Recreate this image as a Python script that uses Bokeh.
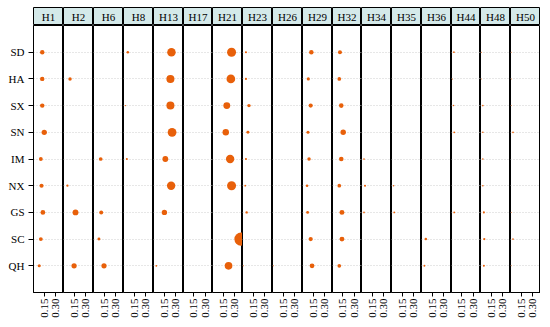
import math
from bokeh.plotting import figure
from bokeh.layouts import row, column
from bokeh.models import ColumnDataSource, FixedTicker, Range1d, FactorRange, Label
from bokeh.embed import file_html
from bokeh.resources import INLINE

# ---------------- data ----------------
populations = ["SD", "HA", "SX", "SN", "IM", "NX", "GS", "SC", "QH"]
haplotypes = ["H1", "H2", "H6", "H8", "H13", "H17", "H21", "H23", "H26",
              "H29", "H32", "H34", "H35", "H36", "H44", "H48", "H50"]

# frequency of each haplotype in each population (order = populations)
H1 = [0.127, 0.127, 0.127, 0.152, 0.109, 0.118, 0.135, 0.109, 0.089]
H2 = [0.0, 0.099, 0.0, 0.0, 0.0, 0.066, 0.168, 0.0, 0.150]
H6 = [0.0, 0.0, 0.0, 0.0, 0.107, 0.0, 0.114, 0.085, 0.149]
H8 = [0.071, 0.0, 0.041, 0.0, 0.059, 0.0, 0.0, 0.0, 0.0]
H13 = [0.243, 0.230, 0.230, 0.251, 0.166, 0.239, 0.154, 0.0, 0.052]
H17 = [0.0, 0.0, 0.0, 0.0, 0.0, 0.0, 0.0, 0.0, 0.0]
H21 = [0.257, 0.248, 0.197, 0.184, 0.239, 0.257, 0.0, 0.375, 0.219]
H23 = [0.060, 0.060, 0.098, 0.085, 0.060, 0.051, 0.069, 0.0, 0.030]
H26 = [0.0, 0.0, 0.0, 0.0, 0.0, 0.0, 0.0, 0.0, 0.030]
H29 = [0.128, 0.090, 0.120, 0.086, 0.099, 0.074, 0.081, 0.120, 0.137]
H32 = [0.114, 0.105, 0.131, 0.156, 0.131, 0.105, 0.140, 0.140, 0.105]
H34 = [0.0, 0.0, 0.0, 0.0, 0.048, 0.061, 0.048, 0.0, 0.0]
H35 = [0.0, 0.0, 0.0, 0.0, 0.0, 0.043, 0.051, 0.0, 0.0]
H36 = [0.0, 0.0, 0.0, 0.0, 0.0, 0.0, 0.0, 0.071, 0.053]
H44 = [0.048, 0.030, 0.043, 0.052, 0.0, 0.0, 0.052, 0.0, 0.0]
H48 = [0.030, 0.028, 0.046, 0.046, 0.046, 0.046, 0.059, 0.064, 0.059]
H50 = [0.028, 0.028, 0.028, 0.048, 0.0, 0.0, 0.028, 0.048, 0.028]

freq = {"H1": H1, "H2": H2, "H6": H6, "H8": H8, "H13": H13, "H17": H17,
        "H21": H21, "H23": H23, "H26": H26, "H29": H29, "H32": H32,
        "H34": H34, "H35": H35, "H36": H36, "H44": H44, "H48": H48, "H50": H50}

x_tick_values = [0.15, 0.30]
x_tick_labels = ["0.15", "0.30"]

# ---------------- style ----------------
FONT = "Liberation Serif"
DOT = "#E8600A"
STRIP = "#D4E9E9"
X_START, X_END = 0.0166, 0.395
PANEL_W = [30, 30, 30, 30, 30, 29, 30, 30, 30, 30, 29, 30, 30, 30, 29, 30, 30]
YAXIS_W = 33
TOP_PAD = 7
FRAME_H = 267
STRIP_H = 18
SIZE_SCALE = 35.0

headers = []
panels = []
for i, h in enumerate(haplotypes):
    first = i == 0
    w = PANEL_W[i]

    # strip header
    hp = figure(frame_width=w, frame_height=STRIP_H, x_range=Range1d(0, 1), y_range=Range1d(0, 1),
                toolbar_location=None, output_backend="svg",
                x_axis_location=None, y_axis_location=None,
                min_border=0, min_border_top=TOP_PAD,
                min_border_left=(YAXIS_W if first else 0),
                background_fill_color=STRIP, border_fill_color="white",
                outline_line_color="black", outline_line_width=1)
    hp.grid.visible = False
    hp.add_layout(Label(x=0.5, y=0.5, text=h, text_align="center", text_baseline="middle",
                        text_font=FONT, text_font_size="11px", text_color="black"))
    headers.append(hp)

    # panel
    yr = FactorRange(factors=list(reversed(populations)), range_padding=0.5,
                     range_padding_units="absolute")
    p = figure(frame_width=w, frame_height=FRAME_H, x_range=Range1d(X_START, X_END), y_range=yr,
               toolbar_location=None, output_backend="svg",
               y_axis_location=("left" if first else None),
               min_border=0, min_border_left=(YAXIS_W if first else 0),
               background_fill_color="white", border_fill_color="white",
               outline_line_color="black", outline_line_width=1)
    p.xgrid.grid_line_color = None
    p.ygrid.grid_line_color = "#cfcfcf"
    p.ygrid.grid_line_dash = "1 2"
    p.ygrid.grid_line_width = 1

    xa = p.xaxis[0]
    xa.ticker = FixedTicker(ticks=x_tick_values)
    xa.major_label_overrides = dict(zip(x_tick_values, x_tick_labels))
    xa.major_label_orientation = math.pi / 2
    xa.major_tick_out = 4
    xa.major_tick_in = 0
    xa.minor_tick_out = 0
    xa.minor_tick_in = 0
    xa.major_label_standoff = 2
    xa.major_label_text_font = FONT
    xa.major_label_text_font_size = "11px"
    xa.major_label_text_color = "black"
    xa.axis_line_color = "black"
    xa.major_tick_line_color = "black"

    if first:
        ya = p.yaxis[0]
        ya.major_tick_out = 5
        ya.major_tick_in = 0
        ya.major_label_standoff = 4
        ya.major_label_text_font = FONT
        ya.major_label_text_font_size = "11px"
        ya.major_label_text_color = "black"
        ya.axis_line_color = "black"
        ya.major_tick_line_color = "black"

    vals = freq[h]
    pops = [pp for pp, v in zip(populations, vals) if v > 0]
    vv = [v for v in vals if v > 0]
    src = ColumnDataSource(dict(pop=pops, v=vv, size=[SIZE_SCALE * v for v in vv]))
    p.scatter(x="v", y="pop", size="size", source=src, fill_color=DOT, line_color=None)
    panels.append(p)

layout = column(row(*headers, spacing=0), row(*panels, spacing=0), spacing=0)
open("out.html", "w").write(file_html(layout, INLINE))
